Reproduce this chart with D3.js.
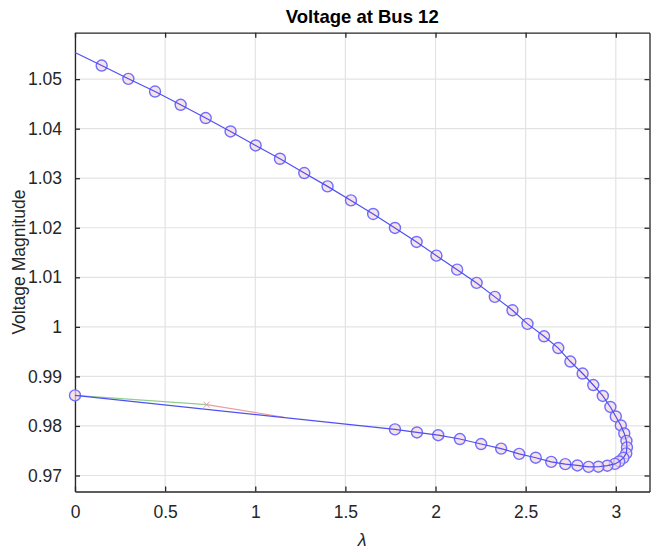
<!DOCTYPE html>
<html>
<head>
<meta charset="utf-8">
<script src="https://cdn.jsdelivr.net/npm/d3@7"></script>
<style>
  body { margin: 0; background: #fff; }
  text { font-family: "Liberation Sans", Arial, Helvetica, sans-serif; }
</style>
</head>
<body>
<svg id="chart" width="651" height="552"></svg>
<script>
// continuation trace: lambda and voltage magnitude at bus 12
const lambdaValues = [0, 0.148, 0.296, 0.444, 0.586, 0.725, 0.863, 1.002, 1.137, 1.272, 1.401,
    1.531, 1.654, 1.775, 1.895, 2.005, 2.120, 2.228, 2.329, 2.427, 2.510, 2.602, 2.681,
    2.748, 2.816, 2.875, 2.928, 2.970, 3.000, 3.028, 3.047, 3.059, 3.062, 3.058, 3.042,
    3.019, 2.995, 2.953, 2.903, 2.849, 2.787, 2.720, 2.642, 2.556, 2.464, 2.364, 2.253,
    2.135, 2.015, 1.897, 1.775, 0];
const voltageValues = [1.05536, 1.05274, 1.05006, 1.0475, 1.04482, 1.04214, 1.03944, 1.03661,
    1.03393, 1.03105, 1.02835, 1.02552, 1.02278, 1.01996, 1.01714, 1.01437, 1.01155, 1.00887,
    1.00605, 1.00335, 1.00060, 0.99810, 0.99572, 0.99300, 0.99058, 0.98826, 0.98605, 0.98383,
    0.98191, 0.98010, 0.97849, 0.97698, 0.97567, 0.97446, 0.97355, 0.97284, 0.97234, 0.97198,
    0.97177, 0.97173, 0.97203, 0.97229, 0.97274, 0.97359, 0.97436, 0.97543, 0.97635, 0.97736,
    0.97813, 0.97869, 0.97930, 0.98617];

// last step: predictor (green), predicted point (x) and corrector (red)
const predictorLambda = [0, 0.73];
const predictorVoltage = [0.98617, 0.98429];
const correctorLambda = [0.73, 1.16];
const correctorVoltage = [0.98429, 0.98175];

const xTicks = [0, 0.5, 1, 1.5, 2, 2.5, 3];
const xTickLabels = ["0", "0.5", "1", "1.5", "2", "2.5", "3"];
const yTicks = [0.97, 0.98, 0.99, 1, 1.01, 1.02, 1.03, 1.04, 1.05];
const yTickLabels = ["0.97", "0.98", "0.99", "1", "1.01", "1.02", "1.03", "1.04", "1.05"];

const box = { left: 75, right: 649.5, top: 32.7, bottom: 491.5 };

const x = d3.scaleLinear().domain([0, 3.187]).range([box.left, box.right]);
const y = d3.scaleLinear().domain([0.96677, 1.05937]).range([box.bottom, box.top]);

const svg = d3.select("#chart");
const axisColor = "#262626";

// grid lines
svg.append("g").selectAll("line").data(xTicks).join("line")
    .attr("x1", d => x(d)).attr("x2", d => x(d))
    .attr("y1", box.top).attr("y2", box.bottom)
    .attr("stroke", "#e3e3e3").attr("stroke-width", 1.2);
svg.append("g").selectAll("line").data(yTicks).join("line")
    .attr("x1", box.left).attr("x2", box.right)
    .attr("y1", d => y(d)).attr("y2", d => y(d))
    .attr("stroke", "#e3e3e3").attr("stroke-width", 1.2);

// axes (ticks pointing inward, on all four sides)
const tickLen = -5;
svg.append("g").attr("transform", `translate(0,${box.bottom})`)
    .call(d3.axisBottom(x).tickValues(xTicks).tickFormat((d, i) => xTickLabels[i])
        .tickSizeInner(tickLen).tickSizeOuter(0).tickPadding(14));
svg.append("g").attr("transform", `translate(0,${box.top})`)
    .call(d3.axisTop(x).tickValues(xTicks).tickFormat("").tickSizeInner(tickLen).tickSizeOuter(0));
svg.append("g").attr("transform", `translate(${box.left},0)`)
    .call(d3.axisLeft(y).tickValues(yTicks).tickFormat((d, i) => yTickLabels[i])
        .tickSizeInner(tickLen).tickSizeOuter(0).tickPadding(13));
svg.append("g").attr("transform", `translate(${box.right},0)`)
    .call(d3.axisRight(y).tickValues(yTicks).tickFormat("").tickSizeInner(tickLen).tickSizeOuter(0));

svg.selectAll(".domain").attr("stroke", axisColor).attr("stroke-width", 1.3);
svg.selectAll(".tick line").attr("stroke", axisColor).attr("stroke-width", 1.3);
svg.selectAll(".tick text").attr("fill", axisColor).style("font-size", "17.5px");

// data
const pts = lambdaValues.map((l, i) => ({ l: l, v: voltageValues[i] }));
const line = d3.line().x(d => x(d.l)).y(d => y(d.v));

const toPts = (ls, vs) => ls.map((l, i) => ({ l: l, v: vs[i] }));

svg.append("path").datum(toPts(predictorLambda, predictorVoltage))
    .attr("d", line).attr("fill", "none").attr("stroke", "#8fd08f").attr("stroke-width", 1.2);
svg.append("path").datum(toPts(correctorLambda, correctorVoltage))
    .attr("d", line).attr("fill", "none").attr("stroke", "#e8a0a0").attr("stroke-width", 1.2);

const xm = { l: predictorLambda[1], v: predictorVoltage[1] };
svg.append("path")
    .attr("d", `M${x(xm.l) - 3},${y(xm.v) - 3}L${x(xm.l) + 3},${y(xm.v) + 3}M${x(xm.l) - 3},${y(xm.v) + 3}L${x(xm.l) + 3},${y(xm.v) - 3}`)
    .attr("stroke", "#e0a0a0").attr("stroke-width", 1);

svg.append("g").selectAll("circle").data(pts.slice(1)).join("circle")
    .attr("cx", d => x(d.l)).attr("cy", d => y(d.v)).attr("r", 5.5)
    .attr("fill", "#f3d6dc").attr("fill-opacity", 0.7)
    .attr("stroke", "#6f6fff").attr("stroke-width", 1.4);

svg.append("path").datum(pts)
    .attr("d", line).attr("fill", "none").attr("stroke", "#4f4ff2").attr("stroke-width", 1.2);

// title and labels
svg.append("text").attr("x", (box.left + box.right) / 2).attr("y", 23)
    .attr("text-anchor", "middle").style("font-size", "18.5px").style("font-weight", "bold")
    .attr("fill", "#000").text("Voltage at Bus 12");

svg.append("text").attr("x", (box.left + box.right) / 2).attr("y", 546)
    .attr("text-anchor", "middle").style("font-size", "18px").style("font-style", "italic")
    .attr("fill", axisColor).text("λ");

svg.append("text")
    .attr("transform", `translate(25,${(box.top + box.bottom) / 2}) rotate(-90)`)
    .attr("text-anchor", "middle").style("font-size", "17.5px")
    .attr("fill", axisColor).text("Voltage Magnitude");
</script>
</body>
</html>
